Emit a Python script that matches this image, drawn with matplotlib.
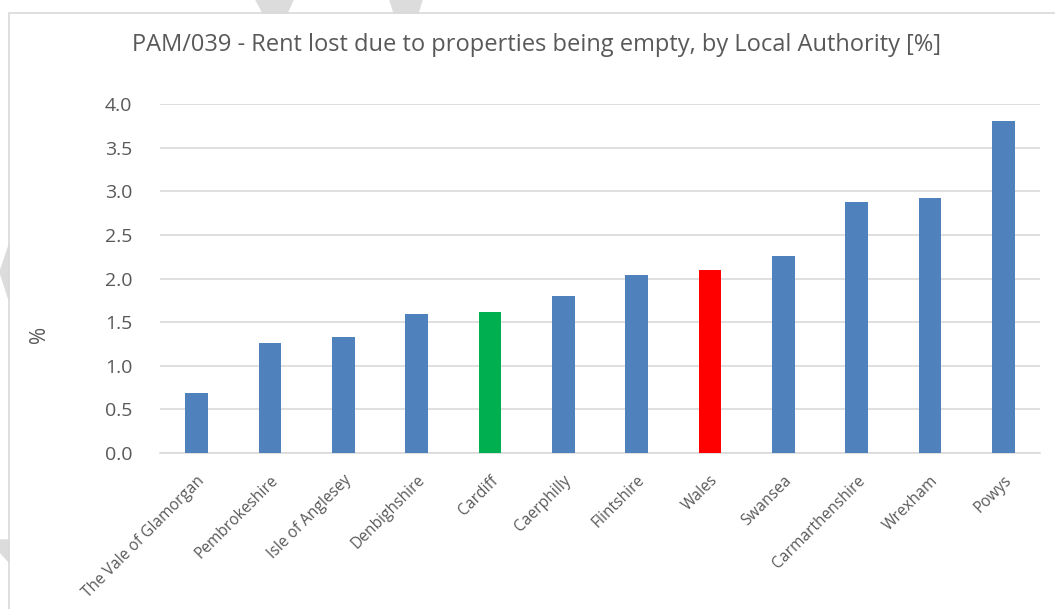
"""Bar chart: rent lost due to empty properties, by local authority."""

import matplotlib.pyplot as plt
from matplotlib.patches import Polygon, Rectangle

AUTHORITIES = [
    "The Vale of Glamorgan", "Pembrokeshire", "Isle of Anglesey", "Denbighshire",
    "Cardiff", "Caerphilly", "Flintshire", "Wales", "Swansea",
    "Carmarthenshire", "Wrexham", "Powys",
]
RENT_LOST = [0.69, 1.26, 1.33, 1.59, 1.62, 1.80, 2.04, 2.10, 2.26, 2.88, 2.92, 3.80]
Y_TICKS = [0.0, 0.5, 1.0, 1.5, 2.0, 2.5, 3.0, 3.5, 4.0]

BLUE = "#4f81bd"
HIGHLIGHT = {"Cardiff": "#00b050", "Wales": "#ff0000"}
TEXT = "#595959"
GRID = "#d9d9d9"

W, H = 1055, 609

plt.rcParams["font.family"] = ["Open Sans", "DejaVu Sans"]

fig = plt.figure(figsize=(W / 100, H / 100), dpi=100)


def px_poly(points):
    # pixel coords (top-left origin) -> figure fraction
    return Polygon([[x / W, 1 - y / H] for x, y in points], closed=True,
                   transform=fig.transFigure, color="#dcdcdc", zorder=0)


# draft watermark fragments and chart border
for pts in (
    [(256, 0), (293, 0), (287, 13), (263, 13)],
    [(390, 0), (422, 0), (418, 13), (394, 13)],
    [(0, 272), (9, 245), (9, 300)],
    [(0, 540), (9, 540), (9, 562), (0, 552)],
):
    fig.patches.append(px_poly(pts))
fig.patches.append(Rectangle((9 / W, -0.01), 1.02, 1 - 13 / H + 0.01,
                             transform=fig.transFigure, fill=False,
                             edgecolor=GRID, linewidth=1.2, zorder=1))

ax = fig.add_axes([160 / W, (H - 453) / H, 880 / W, 349 / H])

colors = [HIGHLIGHT.get(name, BLUE) for name in AUTHORITIES]
positions = range(len(AUTHORITIES))
ax.bar(positions, RENT_LOST, width=0.31, color=colors, zorder=3)

ax.set_xlim(-0.5, len(AUTHORITIES) - 0.5)
ax.set_ylim(0, 4.0)
ax.set_yticks(Y_TICKS)
ax.set_yticklabels([f"{v:.1f}" for v in Y_TICKS], fontsize=14, color=TEXT)
ax.set_xticks(list(positions))
ax.set_xticklabels(AUTHORITIES, rotation=45, ha="right", rotation_mode="anchor",
                   fontsize=11.2, color=TEXT)
ax.tick_params(axis="both", length=0)
ax.tick_params(axis="y", pad=20)
ax.tick_params(axis="x", pad=14)

ax.grid(axis="y", color=GRID, linewidth=1.2, zorder=0)
for side in ("top", "right", "left"):
    ax.spines[side].set_visible(False)
ax.spines["bottom"].set_color(GRID)
ax.spines["bottom"].set_linewidth(1.2)

fig.text(40 / W, 1 - 334 / H, "%", rotation=90, ha="center", va="center",
         fontsize=15, color=TEXT)
fig.text(537 / W, 1 - 45 / H,
         "PAM/039 - Rent lost due to properties being empty, by Local Authority [%]",
         ha="center", va="center", fontsize=17, color=TEXT)

fig.savefig("out.png", dpi=100)
